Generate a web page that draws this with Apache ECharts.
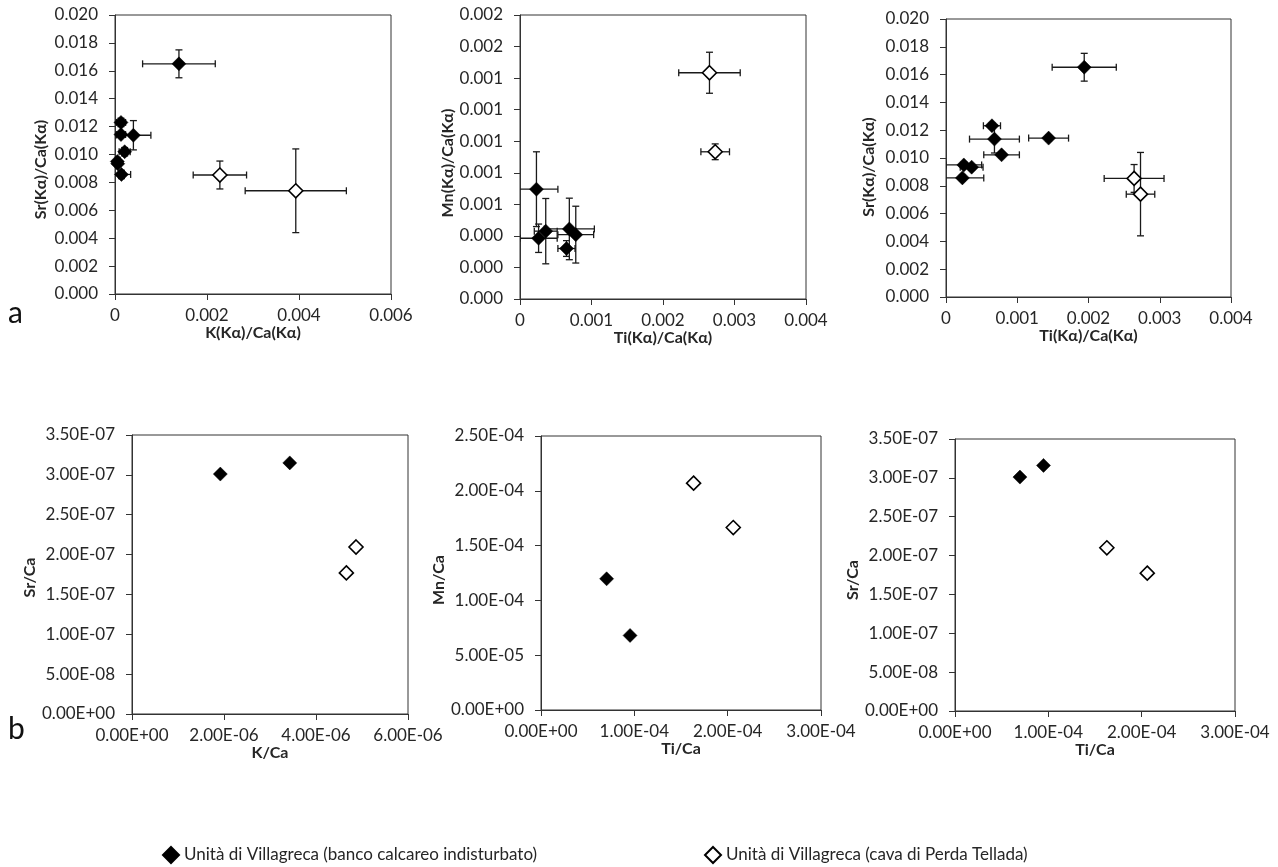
<!DOCTYPE html>
<html>
<head>
<meta charset="utf-8">
<script src="https://cdn.jsdelivr.net/npm/echarts@6/dist/echarts.min.js"></script>
<style>
  html, body { margin: 0; padding: 0; background: #fff; }
  #chart { width: 1278px; height: 867px; }
</style>
</head>
<body>
<div id="chart"></div>
<script>
// rows: [x, y, errX, errY]
const kSrFilled = [
  [0.00139, 0.0165, 0.00079, 0.0010],
  [0.00013, 0.0123, 0.00010, 0.0003],
  [0.00013, 0.01143, 0.00010, 0.0002],
  [0.00040, 0.01138, 0.00038, 0.00105],
  [0.00021, 0.0102, 0.00012, 0.0003],
  [0.00005, 0.0095, 0.00005, 0.0003],
  [0.00006, 0.00934, 0.00004, 0.0002],
  [0.00014, 0.00857, 0.00020, 0.0003]
]
const kSrOpen = [
  [0.00228, 0.00853, 0.00058, 0.0010],
  [0.00393, 0.00740, 0.00110, 0.0030]
]
const tiMnFilled = [
  [0.00023, 0.000696, 0.00030, 0.000237],
  [0.00026, 0.000385, 0.00026, 0.00009],
  [0.00036, 0.00043, 0.00016, 0.000207],
  [0.00069, 0.000444, 0.00035, 0.000195],
  [0.00078, 0.000408, 0.00025, 0.00018],
  [0.00065, 0.00032, 0.00012, 0.00005]
]
const tiMnOpen = [
  [0.00265, 0.001434, 0.00043, 0.00013],
  [0.00273, 0.000933, 0.00020, 0.00005]
]
const tiSrFilled = [
  [0.00194, 0.01653, 0.00045, 0.0010],
  [0.000645, 0.01232, 0.00012, 0.0002],
  [0.00068, 0.01136, 0.00035, 0.0010],
  [0.00144, 0.01143, 0.00028, 0.0002],
  [0.00078, 0.01023, 0.00025, 0.0002],
  [0.00025, 0.0095, 0.00025, 0.0002],
  [0.00036, 0.00934, 0.00016, 0.0002],
  [0.00023, 0.00857, 0.00030, 0.0002]
]
const tiSrOpen = [
  [0.00264, 0.00853, 0.00042, 0.0010],
  [0.00273, 0.00740, 0.00020, 0.0030]
]
// bulk ratios, rows: [x, y]
const kcaSrFilled = [[1.92e-6, 3.01e-7], [3.43e-6, 3.15e-7]]
const kcaSrOpen = [[4.87e-6, 2.095e-7], [4.66e-6, 1.77e-7]]
const ticaMnFilled = [[7.03e-5, 1.197e-4], [9.54e-5, 6.8e-5]]
const ticaMnOpen = [[1.635e-4, 2.07e-4], [2.06e-4, 1.665e-4]]
const ticaSrFilled = [[6.96e-5, 3.01e-7], [9.48e-5, 3.16e-7]]
const ticaSrOpen = [[1.627e-4, 2.10e-7], [2.06e-4, 1.774e-7]]

const nameFilled = "Unità di Villagreca (banco calcareo indisturbato)"
const nameOpen = "Unità di Villagreca (cava di Perda Tellada)"

const font = "Lato"
const ink = "#262626"

function fix3(v) {
  return v.toFixed(3)
}
function fix3zero(v) {
  return v === 0 ? "0" : v.toFixed(3)
}
function sci(v) {
  let s = v.toExponential(2).split("e")
  let e = parseInt(s[1], 10)
  return s[0] + "E" + (e < 0 ? "-" : "+") + (Math.abs(e) < 10 ? "0" : "") + Math.abs(e)
}

const grids = [
  { left: 115, top: 15, width: 276, height: 279 },
  { left: 520, top: 15, width: 286, height: 284 },
  { left: 946, top: 19, width: 285, height: 278 },
  { left: 132, top: 435, width: 276, height: 279 },
  { left: 541, top: 436, width: 280, height: 274 },
  { left: 955, top: 439, width: 280, height: 272 }
]

function axisBase() {
  return {
    type: "value",
    axisLine: { show: true, onZero: false, lineStyle: { color: "#333", width: 1 } },
    axisTick: { show: true, inside: false, length: 6, lineStyle: { color: "#333" } },
    splitLine: { show: false },
    nameLocation: "middle",
    nameTextStyle: { fontFamily: font, fontWeight: "bold", fontSize: 16, color: ink },
    axisLabel: { fontFamily: font, fontSize: 17, color: ink }
  }
}
function xAx(i, name, max, interval, fmt, gap) {
  let a = axisBase()
  a.gridIndex = i
  a.name = name
  a.nameGap = gap
  a.min = 0
  a.max = max
  a.interval = interval
  a.axisLabel.formatter = fmt
  a.axisLabel.margin = 13
  return a
}
function yAx(i, name, max, interval, fmt, gap, shift) {
  let a = axisBase()
  a.gridIndex = i
  a.name = name
  a.nameGap = gap
  a.nameTextStyle.padding = [0, shift * 2, 0, 0]
  a.min = 0
  a.max = max
  a.interval = interval
  a.axisLabel.formatter = fmt
  a.axisLabel.margin = 17
  return a
}

function errorBars(params, api) {
  let x = api.value(0), y = api.value(1), dx = api.value(2), dy = api.value(3)
  let l = api.coord([x - dx, y]), r = api.coord([x + dx, y])
  let t = api.coord([x, y + dy]), b = api.coord([x, y - dy])
  let cap = 3.5
  let style = { stroke: "#1a1a1a", lineWidth: 1.3 }
  function seg(x1, y1, x2, y2) {
    return { type: "line", shape: { x1: x1, y1: y1, x2: x2, y2: y2 }, style: style }
  }
  return {
    type: "group",
    children: [
      seg(l[0], l[1], r[0], r[1]),
      seg(t[0], t[1], b[0], b[1]),
      seg(l[0], l[1] - cap, l[0], l[1] + cap),
      seg(r[0], r[1] - cap, r[0], r[1] + cap),
      seg(t[0] - cap, t[1], t[0] + cap, t[1]),
      seg(b[0] - cap, b[1], b[0] + cap, b[1])
    ]
  }
}

function errSeries(i, data) {
  return {
    type: "custom",
    xAxisIndex: i,
    yAxisIndex: i,
    renderItem: errorBars,
    data: data,
    clip: true,
    z: 1,
    silent: true
  }
}
function dots(i, data, open) {
  return {
    name: open ? nameOpen : nameFilled,
    type: "scatter",
    xAxisIndex: i,
    yAxisIndex: i,
    symbol: "diamond",
    symbolSize: 14,
    itemStyle: open
      ? { color: "#fff", borderColor: "#000", borderWidth: 1.6, opacity: 1 }
      : { color: "#000", borderColor: "#000", borderWidth: 0.5, opacity: 1 },
    data: data.map(function (d) { return [d[0], d[1]] }),
    z: 3
  }
}

let option = {
  backgroundColor: "#fff",
  animation: false,
  grid: grids.map(function (g) {
    return Object.assign({ show: true, borderColor: "#333", borderWidth: 1, backgroundColor: "transparent" }, g)
  }),
  xAxis: [
    xAx(0, "K(Kα)/Ca(Kα)", 0.006, 0.002, fix3zero, 31),
    xAx(1, "Ti(Kα)/Ca(Kα)", 0.004, 0.001, fix3zero, 31),
    xAx(2, "Ti(Kα)/Ca(Kα)", 0.004, 0.001, fix3zero, 31),
    xAx(3, "K/Ca", 6e-6, 2e-6, sci, 31),
    xAx(4, "Ti/Ca", 3e-4, 1e-4, sci, 31),
    xAx(5, "Ti/Ca", 3e-4, 1e-4, sci, 31)
  ],
  yAxis: [
    yAx(0, "Sr(Kα)/Ca(Kα)", 0.02, 0.002, fix3, 66, 15),
    yAx(1, "Mn(Kα)/Ca(Kα)", 0.0018, 0.0002, fix3, 61, 6),
    yAx(2, "Sr(Kα)/Ca(Kα)", 0.02, 0.002, fix3, 69, 9),
    yAx(3, "Sr/Ca", 3.5e-7, 5e-8, sci, 81, 3),
    yAx(4, "Mn/Ca", 2.5e-4, 5e-5, sci, 83, 7),
    yAx(5, "Sr/Ca", 3.5e-7, 5e-8, sci, 89, 5)
  ],
  legend: [
    {
      left: 157, top: 841, itemWidth: 16, itemHeight: 16, itemGap: 8,
      textStyle: { fontFamily: font, fontSize: 17, color: ink },
      data: [nameFilled]
    },
    {
      left: 699, top: 841, itemWidth: 16, itemHeight: 16, itemGap: 8,
      textStyle: { fontFamily: font, fontSize: 17, color: ink },
      data: [nameOpen]
    }
  ],
  graphic: [
    { type: "text", left: 8, top: 298, style: { text: "a", fontFamily: font, fontSize: 30, fill: "#111" } },
    { type: "text", left: 8, top: 714, style: { text: "b", fontFamily: font, fontSize: 30, fill: "#111" } }
  ],
  series: [
    errSeries(0, kSrFilled), errSeries(0, kSrOpen),
    dots(0, kSrFilled, false), dots(0, kSrOpen, true),
    errSeries(1, tiMnFilled), errSeries(1, tiMnOpen),
    dots(1, tiMnFilled, false), dots(1, tiMnOpen, true),
    errSeries(2, tiSrFilled), errSeries(2, tiSrOpen),
    dots(2, tiSrFilled, false), dots(2, tiSrOpen, true),
    dots(3, kcaSrFilled, false), dots(3, kcaSrOpen, true),
    dots(4, ticaMnFilled, false), dots(4, ticaMnOpen, true),
    dots(5, ticaSrFilled, false), dots(5, ticaSrOpen, true)
  ]
}

let chartEl = echarts.init(document.getElementById("chart"))
chartEl.setOption(option)
window.addEventListener("resize", function () { chartEl.resize() })
</script>
</body>
</html>
